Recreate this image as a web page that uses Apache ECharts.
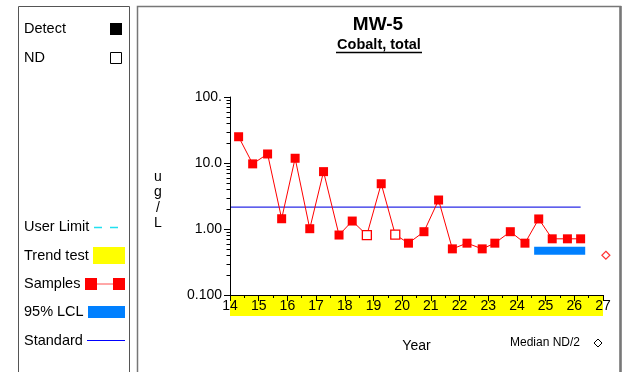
<!DOCTYPE html>
<html>
<head>
<meta charset="utf-8">
<script src="https://cdn.jsdelivr.net/npm/echarts@6/dist/echarts.min.js"></script>
<style>
html,body{margin:0;padding:0;background:#fff;}
#chart{width:626px;height:372px;}
</style>
</head>
<body>
<div id="chart"></div>
<script>
// ---- data ----
var sampleYears = [14.30,14.79,15.31,15.80,16.27,16.78,17.26,17.80,18.26,18.77,19.27,19.76,20.22,20.76,21.27,21.75,22.26,22.79,23.23,23.77,24.28,24.76,25.23,25.76,26.22];
var sampleValues = [25,9.7,13.7,1.43,11.8,1.01,7.4,0.81,1.32,0.81,4.85,0.82,0.61,0.91,2.75,0.50,0.61,0.50,0.61,0.91,0.61,1.42,0.71,0.71,0.71];
var sampleDetect = [1,1,1,1,1,1,1,1,1,0,1,0,1,1,1,1,1,1,1,1,1,1,1,1,1];
var standardValue = 2.15;
var standardYears = [14, 26.22];
var lclYears = [24.6, 26.38];
var lclValue = 0.47;
var medianNDPoint = [27.1, 0.40];
var trendYears = [14, 27];
var yTickLabels = ['0.100','1.00','10.0','100.'];
var yMinorTicks = [0.2,0.3,0.4,0.5,0.6,0.7,0.8,0.9,2,3,4,5,6,7,8,9,20,30,40,50,60,70,80,90];
var legendLabels = ['Detect','ND','User Limit','Trend test','Samples','95% LCL','Standard'];

var FONT = 'Liberation Sans, Arial, sans-serif';
var RED = '#ff0000';

var sampleData = sampleYears.map(function(x,i){
  var item = {value:[x, sampleValues[i]]};
  if(!sampleDetect[i]){
    item.itemStyle = {color:'#ffffff', borderColor:RED, borderWidth:1.3};
  }
  return item;
});

var chart = echarts.init(document.getElementById('chart'), null, {renderer:'canvas'});

var legendY = [29,58,227,256,284,312,340.5];
var graphics = [
  // frames
  {type:'rect', shape:{x:18.5,y:6.5,width:111,height:380}, style:{fill:'none',stroke:'#555',lineWidth:1}, silent:true},
  {type:'rect', shape:{x:137.5,y:6.5,width:483,height:380}, style:{fill:'none',stroke:'#777',lineWidth:1.5}, silent:true},
  {type:'line', shape:{x1:620.5,y1:6,x2:620.5,y2:372}, style:{stroke:'#777',lineWidth:2.5}, silent:true},
  // title
  {type:'text', x:378, y:25, style:{text:'MW-5', font:'bold 19px '+FONT, fill:'#000', align:'center', verticalAlign:'middle'}},
  {type:'text', x:379, y:45, style:{text:'Cobalt, total', font:'bold 14.5px '+FONT, fill:'#000', align:'center', verticalAlign:'middle'}},
  {type:'line', shape:{x1:336,y1:52.5,x2:422,y2:52.5}, style:{stroke:'#000',lineWidth:1.5}},
  // y-axis unit (stacked)
  {type:'text', x:158, y:200, style:{text:'u\ng\n/\nL', font:'14px '+FONT, fill:'#000', align:'center', verticalAlign:'middle', lineHeight:15.5}},
  // median ND/2 note
  {type:'text', x:510, y:343, style:{text:'Median ND/2', font:'12px '+FONT, fill:'#000', align:'left', verticalAlign:'middle'}},
  {type:'polygon', shape:{points:[[598,339],[602,343],[598,347],[594,343]]}, style:{fill:'#fff', stroke:'#000', lineWidth:1}},
  // legend swatches
  {type:'rect', shape:{x:110,y:23,width:12,height:12}, style:{fill:'#000'}},
  {type:'rect', shape:{x:110.5,y:52.5,width:11,height:11}, style:{fill:'#fff',stroke:'#000',lineWidth:1}},
  {type:'line', shape:{x1:94,y1:227.5,x2:118,y2:227.5}, style:{stroke:'#22e0f0',lineWidth:1.5,lineDash:[8,8]}},
  {type:'rect', shape:{x:93,y:247,width:32,height:17}, style:{fill:'#ffff00'}},
  {type:'line', shape:{x1:91,y1:284,x2:119,y2:284}, style:{stroke:'#ff5050',lineWidth:1}},
  {type:'rect', shape:{x:85,y:278,width:12,height:12}, style:{fill:RED}},
  {type:'rect', shape:{x:113,y:278,width:12,height:12}, style:{fill:RED}},
  {type:'rect', shape:{x:88,y:306,width:37,height:12}, style:{fill:'#0080ff'}},
  {type:'line', shape:{x1:87,y1:340.5,x2:125,y2:340.5}, style:{stroke:'#0000ff',lineWidth:1.2}}
];
legendLabels.forEach(function(t,i){
  graphics.push({type:'text', x:24, y:legendY[i], style:{text:t, font:'14.5px '+FONT, fill:'#000', align:'left', verticalAlign:'middle'}});
});

var option = {
  animation:false,
  backgroundColor:'#fff',
  grid:{left:230, top:97, right:23, bottom:77, containLabel:false},
  xAxis:{
    type:'value', min:14, max:27, interval:1, z:10,
    name:'Year', nameLocation:'middle', nameGap:44,
    nameTextStyle:{fontFamily:FONT, fontSize:14, color:'#000'},
    axisLine:{show:true, onZero:false, lineStyle:{color:'#000', width:1}},
    axisTick:{show:true, length:6, lineStyle:{color:'#000'}},
    minorTick:{show:true, splitNumber:2, length:3, lineStyle:{color:'#000'}},
    axisLabel:{fontFamily:FONT, fontSize:14, color:'#000', margin:4},
    splitLine:{show:false}
  },
  yAxis:{
    type:'log', logBase:10, min:0.1, max:100, z:10,
    axisLine:{show:true, lineStyle:{color:'#000', width:1}},
    axisTick:{show:true, length:6, lineStyle:{color:'#000'}},
    axisLabel:{fontFamily:FONT, fontSize:14, color:'#000', margin:8,
      formatter:function(v){ var k = Math.round(Math.log10(v)) + 1; return yTickLabels[k] || ''; }},
    splitLine:{show:false}
  },
  graphic:graphics,
  series:[
    {
      type:'custom', name:'Trend test', z:1, clip:false, silent:true,
      data:[[trendYears[0], trendYears[1]]],
      renderItem:function(params, api){
        var p1 = api.coord([api.value(0), 0.1]);
        var p2 = api.coord([api.value(1), 0.1]);
        return {type:'rect', shape:{x:p1[0], y:p1[1], width:p2[0]-p1[0], height:21}, style:{fill:'#ffff00'}};
      }
    },
    {
      type:'custom', name:'minor y ticks', z:11, clip:false, silent:true,
      data:yMinorTicks.map(function(v){ return [14, v]; }),
      renderItem:function(params, api){
        var p = api.coord([api.value(0), api.value(1)]);
        var y = Math.round(p[1]) + 0.5;
        return {type:'line', shape:{x1:p[0]-3.5, y1:y, x2:p[0], y2:y}, style:{stroke:'#000', lineWidth:1}};
      }
    },
    {
      type:'line', name:'Standard', symbol:'none', z:3,
      data:[[standardYears[0], standardValue],[standardYears[1], standardValue]],
      lineStyle:{color:'#2a2ae6', width:1.2}
    },
    {
      type:'line', name:'95% LCL', symbol:'none', z:3,
      data:[[lclYears[0], lclValue],[lclYears[1], lclValue]],
      lineStyle:{color:'#0080ff', width:8, cap:'butt'}
    },
    {
      type:'line', name:'Samples', z:5,
      data:sampleData,
      symbol:'rect', symbolSize:9, showAllSymbol:true,
      lineStyle:{color:RED, width:1},
      itemStyle:{color:RED, borderWidth:0}
    },
    {
      type:'scatter', name:'Median ND/2', clip:false, z:5,
      data:[medianNDPoint],
      symbol:'diamond', symbolSize:8,
      itemStyle:{color:'#fff', borderColor:RED, borderWidth:1.2}
    }
  ]
};
chart.setOption(option);
</script>
</body>
</html>
